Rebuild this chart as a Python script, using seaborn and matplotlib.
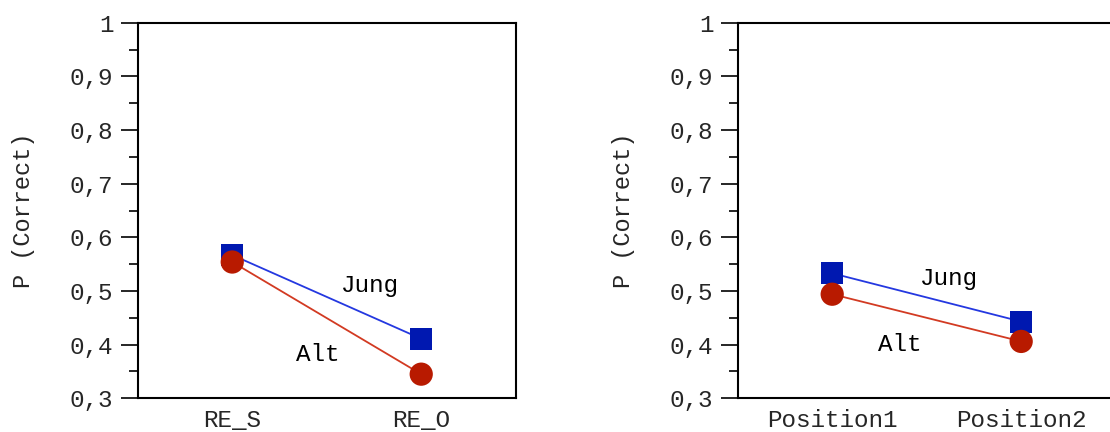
import matplotlib
matplotlib.use("Agg")
import matplotlib.pyplot as plt
import seaborn as sns
import pandas as pd
from matplotlib.ticker import MultipleLocator, FixedLocator, FuncFormatter

# --- data -------------------------------------------------------------
groups = ["Jung", "Alt"]

left_conditions = ["RE_S", "RE_O"]
left_jung = [0.567, 0.411]
left_alt = [0.554, 0.345]

right_conditions = ["Position1", "Position2"]
right_jung = [0.533, 0.443]
right_alt = [0.494, 0.406]

y_ticks = [0.3, 0.4, 0.5, 0.6, 0.7, 0.8, 0.9, 1.0]
y_label = "P (Correct)"

# label placement for the group names (x in category units, y in P)
left_text_pos = {"Jung": (0.73, 0.511), "Alt": (0.45, 0.381)}
right_text_pos = {"Jung": (0.62, 0.524), "Alt": (0.36, 0.401)}

# --- style ------------------------------------------------------------
sns.set_style("white")
plt.rcParams["font.family"] = ["Liberation Mono", "DejaVu Sans Mono"]

marker_colors = {"Jung": "#0018b0", "Alt": "#b81a00"}
line_colors = {"Jung": "#2438e0", "Alt": "#d23a22"}
markers = {"Jung": "s", "Alt": "o"}
marker_sizes = {"Jung": 250, "Alt": 280}

FS = 17.5


def make_frame(conditions, jung, alt):
    rows = []
    for g, vals in zip(groups, [jung, alt]):
        for c, v in zip(conditions, vals):
            rows.append({"cond": c, "p": v, "group": g})
    return pd.DataFrame(rows)


def draw_panel(ax, conditions, jung, alt, text_pos):
    df = make_frame(conditions, jung, alt)
    sns.lineplot(data=df, x="cond", y="p", hue="group", hue_order=groups,
                 palette=line_colors, sort=False, lw=1.3, legend=False,
                 ax=ax, zorder=2)
    for g in groups:
        sub = df[df["group"] == g]
        sns.scatterplot(data=sub, x="cond", y="p", marker=markers[g],
                        s=marker_sizes[g], color=marker_colors[g],
                        edgecolor="none", legend=False, ax=ax, zorder=3)
    for g in groups:
        tx, ty = text_pos[g]
        ax.text(tx, ty, g, fontsize=FS, ha="center", va="center",
                color="black")

    ax.set_xlim(-0.5, 1.5)
    ax.set_ylim(0.3, 1.0)
    ax.yaxis.set_major_locator(FixedLocator(y_ticks))
    ax.yaxis.set_minor_locator(MultipleLocator(0.05))
    ax.yaxis.set_major_formatter(FuncFormatter(
        lambda v, _: "1" if abs(v - 1) < 1e-9 else f"{v:.1f}".replace(".", ",")))
    ax.tick_params(axis="y", which="major", direction="out", length=12.5,
                   width=1.4, labelsize=FS, pad=5, left=True)
    ax.tick_params(axis="y", which="minor", direction="out", length=6.5,
                   width=1.4, left=True)
    ax.tick_params(axis="x", length=0, labelsize=FS, pad=8)
    ax.set_xlabel("")
    ax.set_ylabel(y_label, fontsize=17, va="center")
    ax.yaxis.set_label_coords(-0.303, 0.5)
    for sp in ax.spines.values():
        sp.set_visible(True)
        sp.set_linewidth(1.5)
        sp.set_color("black")


fig = plt.figure(figsize=(11.1, 4.32), dpi=100)
ax1 = fig.add_axes([0.1241, 0.078, 0.3405, 0.8694])
ax2 = fig.add_axes([0.6646, 0.078, 0.3405, 0.8694])

draw_panel(ax1, left_conditions, left_jung, left_alt, left_text_pos)
draw_panel(ax2, right_conditions, right_jung, right_alt, right_text_pos)

fig.savefig("out.png", dpi=100)
